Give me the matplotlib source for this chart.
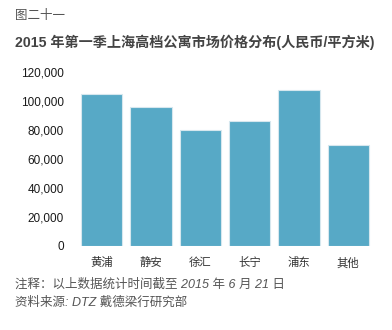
import matplotlib
matplotlib.use('Agg')
import matplotlib.pyplot as plt

plt.rcParams['font.family'] = ['Liberation Sans', 'Noto Sans CJK SC', 'DejaVu Sans']

districts = ['黄浦', '静安', '徐汇', '长宁', '浦东', '其他']
prices = [104800, 96200, 80400, 86300, 108000, 69600]
yticks = [0, 20000, 40000, 60000, 80000, 100000, 120000]

W, H = 392, 330
fig = plt.figure(figsize=(W / 100, H / 100), dpi=100)
fig.patch.set_facecolor('white')

# axes box in pixels: left 77, right 373, bottom at y=246, top at y=72.3
ax = fig.add_axes([77 / W, (H - 246) / H, 296 / W, (246 - 72.3) / H])
ax.bar(range(len(districts)), prices, width=0.84, color='#57a9c6',
       edgecolor='#d6e7ee', linewidth=0.8)

ax.set_xlim(-0.5, len(districts) - 0.5)
ax.set_ylim(0, 120000)
ax.set_yticks(yticks)
ax.set_yticklabels(['{:,}'.format(v) for v in yticks], fontsize=8.5, color='#1a1a1a')
ax.set_xticks(range(len(districts)))
ax.set_xticklabels(districts, fontsize=8.2, color='#333333')
ax.tick_params(axis='y', length=0, pad=9.5)
ax.tick_params(axis='x', length=0, pad=8)
for s in ax.spines.values():
    s.set_visible(False)

fig.text(15 / W, 1 - 16 / H, '图二十一', fontsize=9, color='#555555', va='center')
fig.text(15 / W, 1 - 42 / H, '2015 年第一季上海高档公寓市场价格分布(人民币/平方米)',
         fontsize=10.2, fontweight='bold', color='#444444', va='center')
fig.text(15 / W, 1 - 285 / H, '注释：以上数据统计时间截至 2015 年 6 月 21 日',
         fontsize=9, style='italic', color='#555555', va='center')
fig.text(15 / W, 1 - 303 / H, '资料来源: DTZ 戴德梁行研究部',
         fontsize=9, style='italic', color='#555555', va='center')

fig.savefig('out.png', dpi=100, facecolor='white')
